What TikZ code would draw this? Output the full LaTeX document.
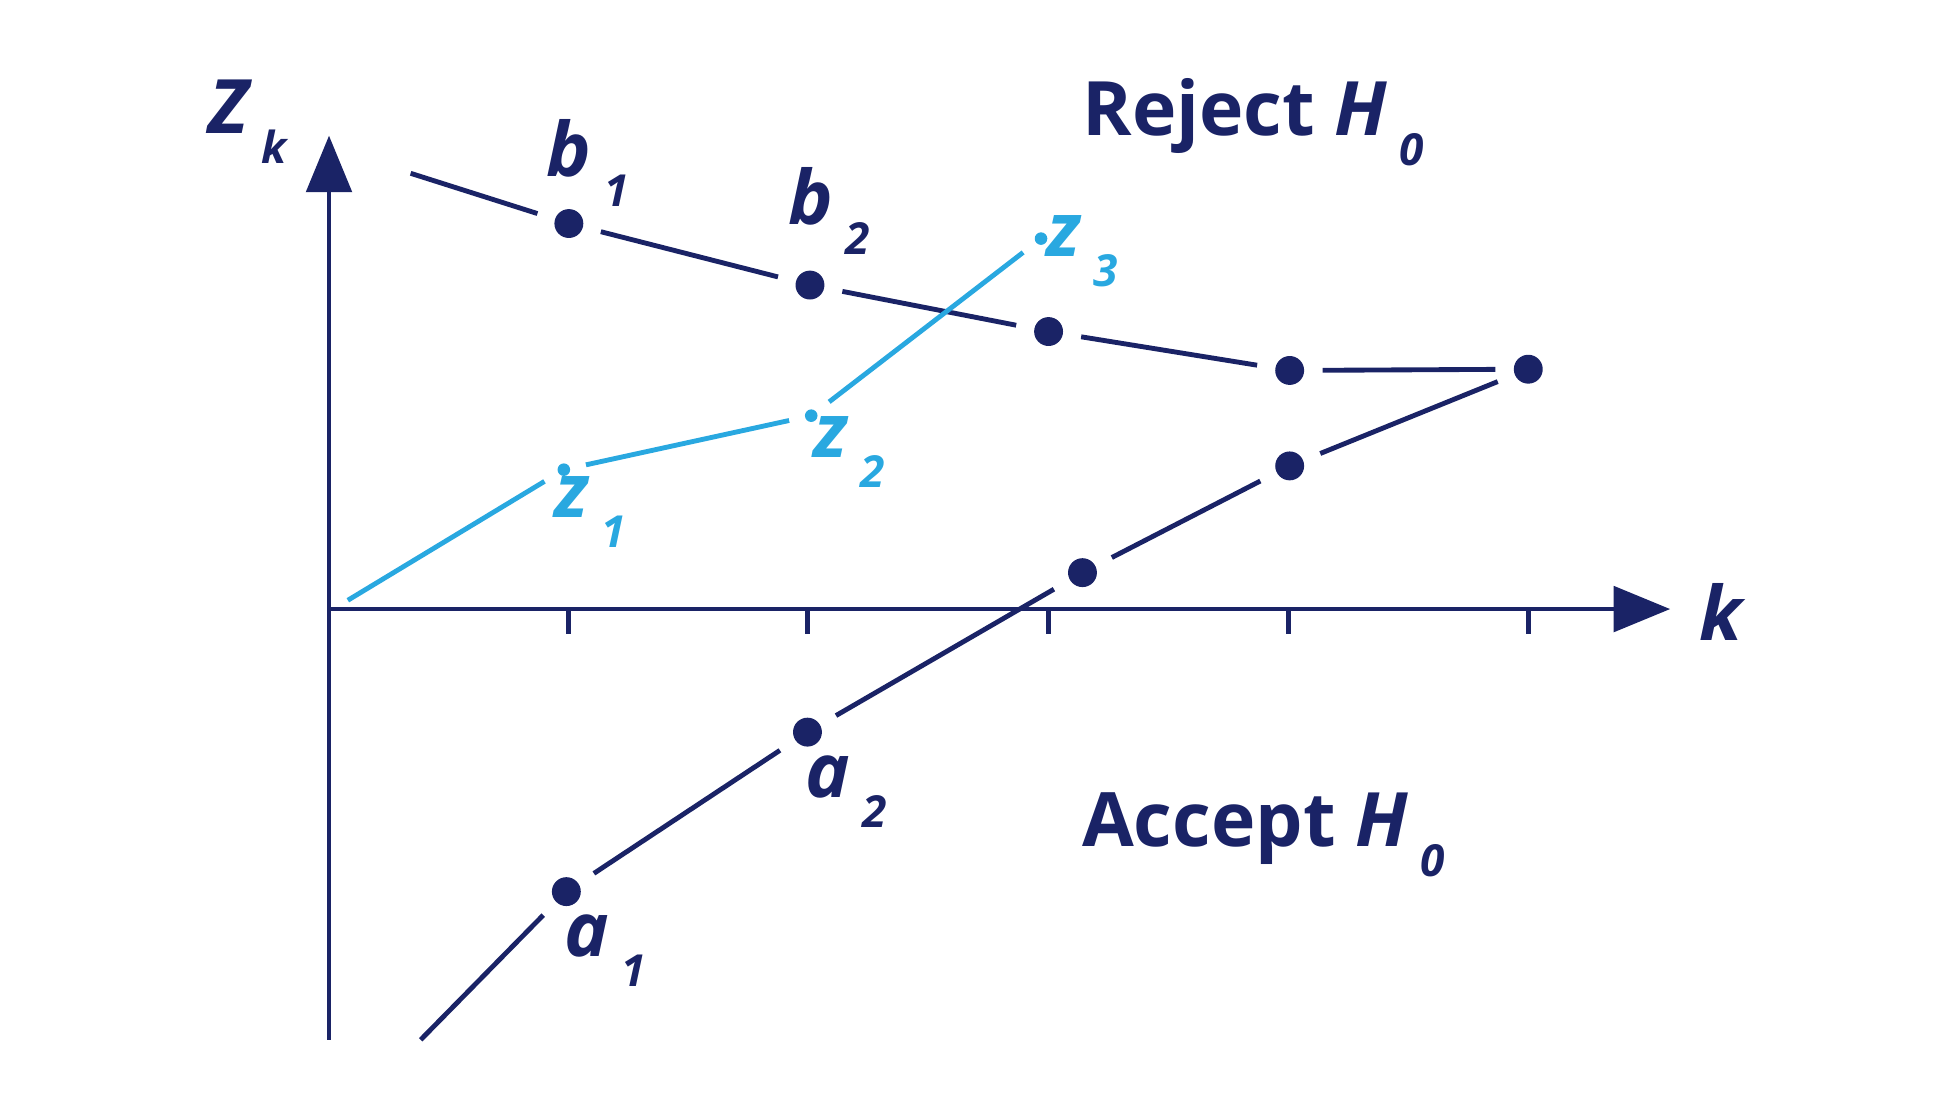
\documentclass[tikz,border=0pt]{standalone}
\usepackage{fontspec}
\setmainfont{Open Sans}
\usetikzlibrary{arrows.meta}
\definecolor{navy}{HTML}{1A2366}
\definecolor{sky}{HTML}{29A8E0}
\newcommand{\lbl}[2]{\textbf{\textit{#1\,\raisebox{-0.4em}{\fontsize{10}{10}\selectfont #2}}}}
\begin{document}
\begin{tikzpicture}[x=0.01cm,y=-0.01cm,
    bound/.style={navy,line width=1.1pt,shorten <=4pt,shorten >=4pt},
    obs/.style={sky,line width=1.1pt,shorten <=3.5pt,shorten >=3.5pt},
    dot/.style={circle,fill=navy,inner sep=0pt,minimum size=0.23cm},
    sdot/.style={circle,fill=sky,inner sep=0pt,minimum size=0.1cm},
    txt/.style={navy,font=\fontsize{17}{17}\selectfont}]
    \useasboundingbox (0,0) rectangle (1560,878);

    % axes
    \draw[navy,line width=1.1pt,-{Triangle[width=0.36cm,length=0.45cm]}](262,828)--(262,108);
    \draw[navy,line width=1.1pt,-{Triangle[width=0.36cm,length=0.45cm]}](262,485)--(1330,485);
    \foreach \t in {453,643,835,1026,1217}
        \draw[navy,line width=1.1pt](\t,485)--(\t,505);
    \node[txt] (zk) at (197,97){\lbl{Z}{k}};
    \node[txt] (k) at (1372,487){\textbf{\textit{k}}};

    % upper boundary
    \node[dot] (b1) at (453,178){};
    \node[dot] (b2) at (645,227){};
    \node[dot] (b3) at (835,264){};
    \node[dot] (b4) at (1027,295){};
    \node[dot] (b5) at (1217,294){};
    \coordinate (b0) at (327,138);
    \draw[bound,shorten <=0pt](b0)--(b1);
    \draw[bound](b1)--(b2);
    \draw[bound](b2)--(b3);
    \draw[bound](b3)--(b4);
    \draw[bound](b4)--(b5);

    % lower boundary
    \node[dot] (a1) at (451,710){};
    \node[dot] (a2) at (643,583){};
    \node[dot] (a3) at (862,456){};
    \node[dot] (a4) at (1027,371){};
    \coordinate (a0) at (335,828);
    \draw[bound,shorten <=0pt](a0)--(a1);
    \draw[bound](a1)--(a2);
    \draw[bound](a2)--(a3);
    \draw[bound](a3)--(a4);
    \draw[bound](a4)--(b5);

    % statistic
    \coordinate (z0) at (277,478);
    \node[sdot] (z1) at (449,374){};
    \node[sdot] (z2) at (646,331){};
    \node[sdot] (z3) at (829,190){};
    \draw[obs,shorten <=0pt](z0)--(z1);
    \draw[obs](z1)--(z2);
    \draw[obs](z2)--(z3);

    % labels
    \node[txt] at (468,130){\lbl{b}{1}};
    \node[txt] at (660,168){\lbl{b}{2}};
    \node[txt,sky] at (862,200){\lbl{z}{3}};
    \node[txt,sky] at (676,360){\lbl{z}{2}};
    \node[txt,sky] at (470,408){\lbl{z}{1}};
    \node[txt] at (674,630){\lbl{a}{2}};
    \node[txt] at (482,757){\lbl{a}{1}};
    \node[txt] (rej) at (998,97){\textbf{Reject \textit{H\,\raisebox{-0.4em}{\fontsize{10}{10}\selectfont 0}}}};
    \node[txt] (acc) at (1006,665){\textbf{Accept \textit{H\,\raisebox{-0.4em}{\fontsize{10}{10}\selectfont 0}}}};
\end{tikzpicture}
\end{document}
